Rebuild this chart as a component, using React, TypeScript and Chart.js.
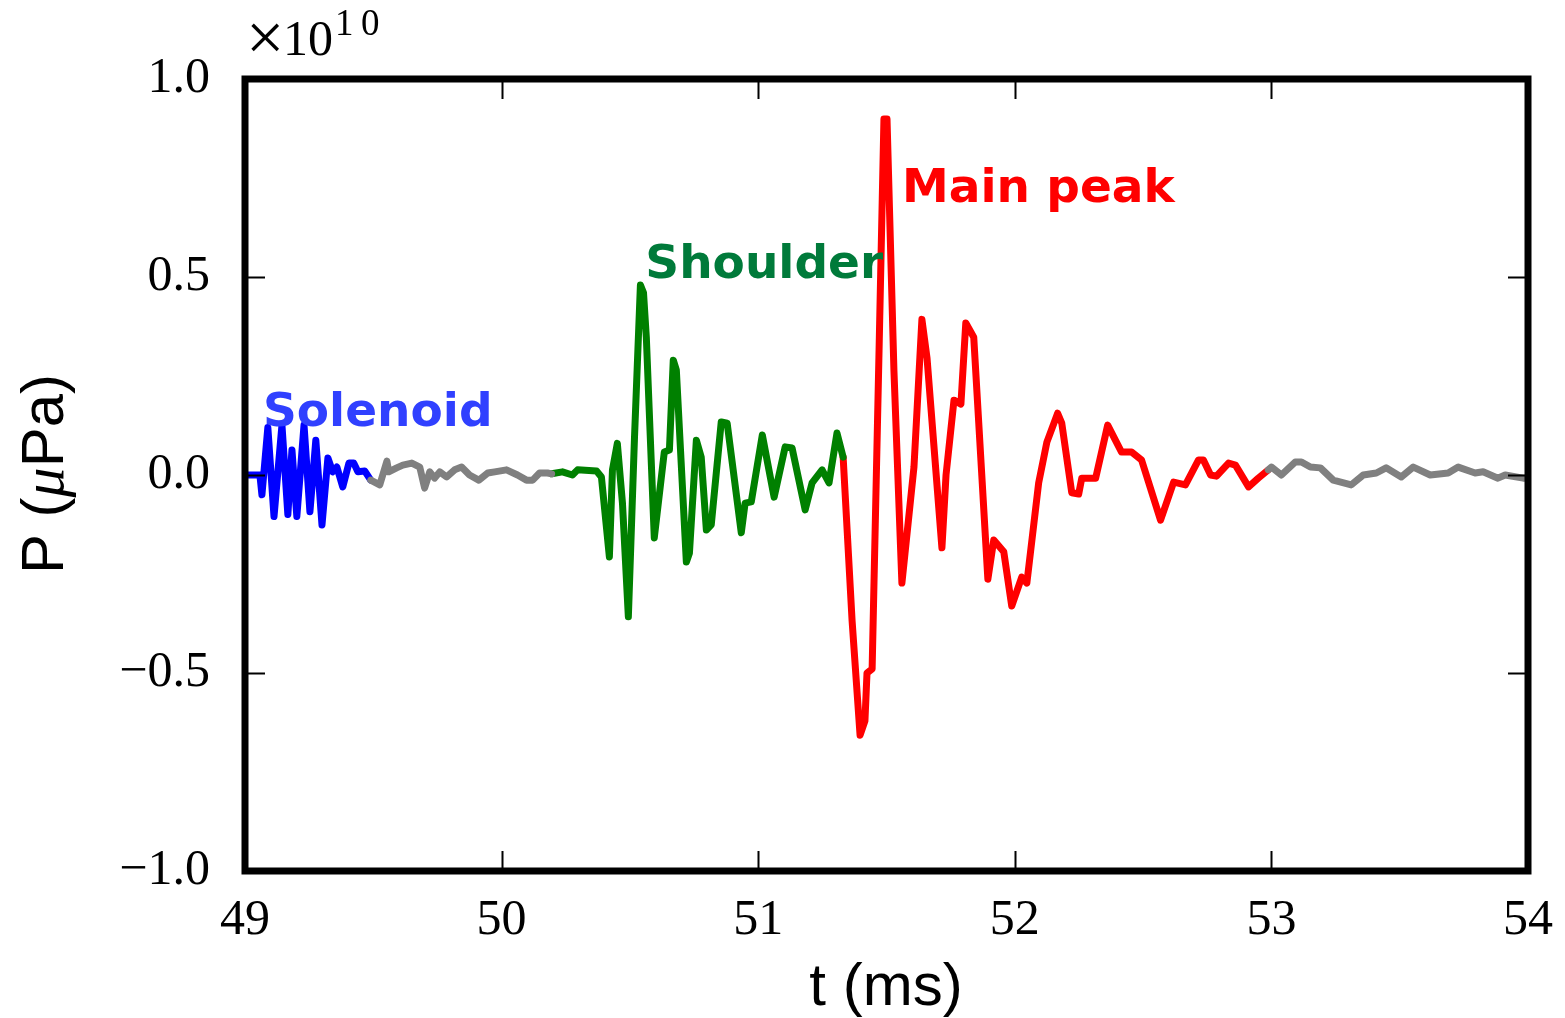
import React, { useEffect, useRef } from "react";
import { Chart, registerables } from "chart.js";

Chart.register(...registerables);

// Time axis in ms, pressure in units of 1e10 μPa
const xTicks = [49, 50, 51, 52, 53, 54];
const yTicks = [-1.0, -0.5, 0.0, 0.5, 1.0];

const tSolenoid = [49.0, 49.012, 49.058, 49.066, 49.089, 49.113, 49.144, 49.167, 49.183, 49.202, 49.23, 49.253, 49.276, 49.3, 49.323, 49.342, 49.358, 49.381, 49.405, 49.424, 49.44, 49.467, 49.49];
const pSolenoid = [0.0, 0.0, 0.0, -0.05, 0.12, -0.105, 0.126, -0.1, 0.063, -0.105, 0.126, -0.093, 0.088, -0.126, 0.043, 0.008, 0.02, -0.03, 0.03, 0.03, 0.008, 0.01, -0.013];

const tGapA = [49.49, 49.525, 49.553, 49.56, 49.591, 49.615, 49.65, 49.681, 49.7, 49.72, 49.739, 49.759, 49.786, 49.817, 49.844, 49.875, 49.911, 49.946, 49.973, 50.019, 50.062, 50.097, 50.121, 50.148, 50.179, 50.195];
const pGapA = [-0.013, -0.025, 0.035, 0.008, 0.018, 0.025, 0.03, 0.02, -0.033, 0.008, -0.008, 0.008, -0.005, 0.013, 0.02, 0.0, -0.013, 0.005, 0.008, 0.013, 0.0, -0.013, -0.013, 0.005, 0.005, 0.003];

const tShoulder = [50.195, 50.237, 50.276, 50.296, 50.37, 50.389, 50.42, 50.432, 50.451, 50.471, 50.494, 50.518, 50.541, 50.553, 50.564, 50.595, 50.634, 50.654, 50.669, 50.681, 50.72, 50.732, 50.759, 50.778, 50.798, 50.817, 50.856, 50.879, 50.934, 50.949, 50.973, 51.016, 51.062, 51.105, 51.132, 51.183, 51.21, 51.249, 51.276, 51.307, 51.331];
const pShoulder = [0.003, 0.008, 0.0, 0.013, 0.01, -0.005, -0.207, 0.013, 0.08, -0.071, -0.358, 0.096, 0.48, 0.46, 0.348, -0.159, 0.058, 0.063, 0.29, 0.265, -0.22, -0.197, 0.088, 0.045, -0.139, -0.126, 0.134, 0.131, -0.146, -0.071, -0.068, 0.101, -0.056, 0.071, 0.068, -0.088, -0.02, 0.013, -0.02, 0.106, 0.045];

const tMain = [51.331, 51.366, 51.397, 51.416, 51.424, 51.444, 51.471, 51.49, 51.502, 51.529, 51.56, 51.607, 51.638, 51.658, 51.716, 51.732, 51.763, 51.79, 51.809, 51.84, 51.895, 51.918, 51.957, 51.988, 52.027, 52.047, 52.093, 52.125, 52.167, 52.183, 52.222, 52.249, 52.261, 52.315, 52.362, 52.416, 52.455, 52.494, 52.568, 52.619, 52.665, 52.716, 52.735, 52.763, 52.786, 52.833, 52.86, 52.911, 52.949, 52.988];
const pMain = [0.045, -0.369, -0.657, -0.621, -0.5, -0.49, 0.315, 0.899, 0.899, 0.263, -0.273, 0.02, 0.393, 0.295, -0.184, 0.0, 0.189, 0.179, 0.384, 0.348, -0.263, -0.164, -0.194, -0.331, -0.258, -0.273, -0.02, 0.083, 0.156, 0.131, -0.045, -0.048, -0.008, -0.008, 0.126, 0.058, 0.058, 0.038, -0.114, -0.018, -0.025, 0.038, 0.038, 0.0, -0.003, 0.03, 0.025, -0.03, -0.008, 0.013];

const tGapB = [52.988, 53.0, 53.039, 53.093, 53.117, 53.152, 53.191, 53.241, 53.311, 53.358, 53.409, 53.447, 53.506, 53.553, 53.619, 53.689, 53.728, 53.794, 53.825, 53.883, 53.911, 53.981, 54.0];
const pGapB = [0.013, 0.02, 0.0, 0.033, 0.033, 0.02, 0.018, -0.013, -0.025, 0.0, 0.005, 0.018, -0.005, 0.02, 0.0, 0.005, 0.02, 0.005, 0.008, -0.008, 0.0, -0.008, -0.008];

const labels = [
  { text: "Solenoid", t: 49.07, p: 0.125, color: "#3040ff" },
  { text: "Shoulder", t: 50.56, p: 0.497, color: "#007a3a" },
  { text: "Main peak", t: 51.56, p: 0.690, color: "#ff0000" },
];

const W = 1565;
const H = 1018;

function xy(ts: number[], ps: number[]) {
  return ts.map((t, i) => ({ x: t, y: ps[i] }));
}

const framePlugin = {
  id: "framePlugin",
  afterDraw(chart: any) {
    const { ctx, chartArea } = chart;
    const xs = chart.scales.x;
    const ys = chart.scales.y;
    const { left, right, top, bottom } = chartArea;
    ctx.save();
    // inward ticks
    ctx.strokeStyle = "#000";
    ctx.lineWidth = 2;
    const tl = 20;
    ctx.beginPath();
    xTicks.forEach((v) => {
      const px = Math.round(xs.getPixelForValue(v)) + 0.5;
      ctx.moveTo(px, bottom);
      ctx.lineTo(px, bottom - tl);
      ctx.moveTo(px, top);
      ctx.lineTo(px, top + tl);
    });
    yTicks.forEach((v) => {
      const py = Math.round(ys.getPixelForValue(v)) + 0.5;
      ctx.moveTo(left, py);
      ctx.lineTo(left + tl, py);
      ctx.moveTo(right, py);
      ctx.lineTo(right - tl, py);
    });
    ctx.stroke();
    // frame
    ctx.lineWidth = 7;
    ctx.strokeRect(left, top, right - left, bottom - top);

    // annotations
    ctx.font = "bold 47px 'DejaVu Sans'";
    ctx.textAlign = "left";
    ctx.textBaseline = "alphabetic";
    labels.forEach((l) => {
      ctx.fillStyle = l.color;
      ctx.fillText(l.text, xs.getPixelForValue(l.t), ys.getPixelForValue(l.p));
    });

    // multiplier ×10^10
    ctx.fillStyle = "#000";
    ctx.font = "68px 'Liberation Serif'";
    ctx.fillText("×", 246, 60);
    ctx.font = "50px 'Liberation Serif'";
    ctx.fillText("10", 283, 55);
    ctx.font = "37px 'Liberation Serif'";
    ctx.fillText("1", 335, 35);
    ctx.fillText("0", 361, 35);

    // x axis title
    ctx.font = "60px 'Liberation Sans'";
    ctx.textAlign = "center";
    ctx.textBaseline = "alphabetic";
    ctx.fillText("t (ms)", 886, 1005);

    // y axis title with italic mu
    const partA = "P (";
    const partB = "μ";
    const partC = "Pa)";
    const fontUp = "60px 'Liberation Sans'";
    const fontMu = "italic 60px 'Liberation Serif'";
    ctx.font = fontUp;
    const wA = ctx.measureText(partA).width;
    const wC = ctx.measureText(partC).width;
    ctx.font = fontMu;
    const wB = ctx.measureText(partB).width;
    const total = wA + wB + wC;
    ctx.save();
    ctx.translate(63, 474);
    ctx.rotate(-Math.PI / 2);
    ctx.textAlign = "left";
    let x0 = -total / 2;
    ctx.font = fontUp;
    ctx.fillText(partA, x0, 0);
    x0 += wA;
    ctx.font = fontMu;
    ctx.fillText(partB, x0, 0);
    x0 += wB;
    ctx.font = fontUp;
    ctx.fillText(partC, x0, 0);
    ctx.restore();
    ctx.restore();
  },
};

export default function App() {
  const ref = useRef<HTMLCanvasElement | null>(null);
  useEffect(() => {
    if (!ref.current) return;
    const common = { borderWidth: 7, pointRadius: 0, tension: 0, fill: false, borderJoinStyle: "round" as const, borderCapStyle: "round" as const };
    const chart = new Chart(ref.current, {
      type: "line",
      data: {
        datasets: [
          { ...common, data: xy(tGapA, pGapA), borderColor: "#808080" },
          { ...common, data: xy(tGapB, pGapB), borderColor: "#808080" },
          { ...common, data: xy(tSolenoid, pSolenoid), borderColor: "#0000ff" },
          { ...common, data: xy(tShoulder, pShoulder), borderColor: "#008000" },
          { ...common, data: xy(tMain, pMain), borderColor: "#ff0000" },
        ],
      },
      options: {
        responsive: false,
        animation: false,
        layout: { padding: { top: 79, right: 35, left: 0, bottom: 0 } },
        plugins: { legend: { display: false }, tooltip: { enabled: false } },
        scales: {
          x: {
            type: "linear",
            min: 49,
            max: 54,
            afterBuildTicks: (s: any) => {
              s.ticks = xTicks.map((v) => ({ value: v }));
            },
            ticks: {
              color: "#000",
              font: { family: "'Liberation Serif'", size: 50 },
              padding: 12,
              maxRotation: 0,
              autoSkip: false,
              callback: (v: any) => String(v),
            },
            grid: { display: false },
            border: { display: false },
            afterFit: (s: any) => {
              s.height = H - 871;
            },
          },
          y: {
            type: "linear",
            min: -1,
            max: 1,
            afterBuildTicks: (s: any) => {
              s.ticks = yTicks.map((v) => ({ value: v }));
            },
            ticks: {
              color: "#000",
              font: { family: "'Liberation Serif'", size: 50 },
              padding: 27,
              autoSkip: false,
              callback: (v: any) => {
                const n = Number(v);
                const s = Math.abs(n).toFixed(1);
                return n < 0 ? "\u2212" + s : s;
              },
            },
            grid: { display: false },
            border: { display: false },
            afterFit: (s: any) => {
              s.width = 245;
            },
          },
        },
      },
      plugins: [framePlugin],
    });
    return () => chart.destroy();
  }, []);
  return (
    <div style={{ position: "fixed", left: 0, top: 0, width: W, height: H, background: "#fff" }}>
      <canvas ref={ref} width={W} height={H} style={{ width: W, height: H, display: "block" }} />
    </div>
  );
}
